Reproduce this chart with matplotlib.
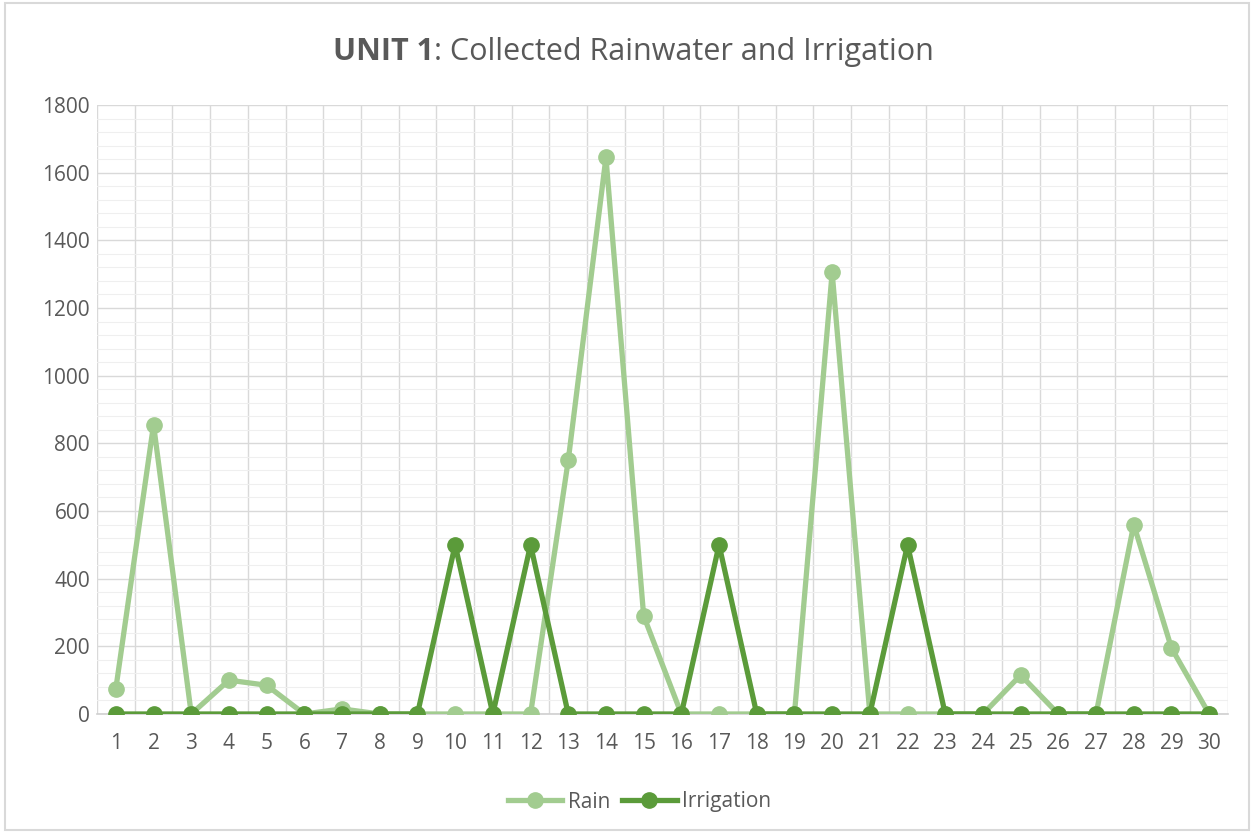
import numpy as np
import matplotlib.pyplot as plt
from matplotlib.ticker import MultipleLocator

# Days 1..30
days = list(range(1, 31))

# Collected rainwater per day
rain = [75, 855, 0, 100, 85, 0, 15, 0, 0, 0,
        0, 0, 750, 1645, 290, 0, 0, 0, 0, 1305,
        0, 0, 0, 0, 115, 0, 0, 560, 195, 0]

# Irrigation per day
irrigation = [0, 0, 0, 0, 0, 0, 0, 0, 0, 500,
              0, 500, 0, 0, 0, 0, 500, 0, 0, 0,
              0, 500, 0, 0, 0, 0, 0, 0, 0, 0]

rain_color = '#a2cc90'
irr_color = '#5b9b3a'
text_color = '#595959'

plt.rcParams['font.family'] = ['Open Sans', 'DejaVu Sans']

fig = plt.figure(figsize=(12.54, 8.33), dpi=100)
ax = fig.add_axes([97 / 1254, 1 - 714 / 833, (1228 - 97) / 1254, (714 - 105) / 833])

x = np.arange(len(days))
ax.plot(x, rain, color=rain_color, lw=3.8, marker='o', ms=11, label='Rain', zorder=3)
ax.plot(x, irrigation, color=irr_color, lw=3.8, marker='o', ms=11, label='Irrigation', zorder=4)

ax.set_xlim(-0.5, len(days) - 0.5)
ax.set_ylim(0, 1800)
ax.yaxis.set_major_locator(MultipleLocator(200))
ax.yaxis.set_minor_locator(MultipleLocator(40))
ax.set_xticks(x)
ax.set_xticklabels([str(d) for d in days])
ax.set_xticks(np.arange(-0.5, len(days), 1), minor=True)

ax.grid(which='major', axis='y', color='#d9d9d9', lw=1)
ax.grid(which='minor', axis='y', color='#efefef', lw=0.8)
ax.grid(which='minor', axis='x', color='#d9d9d9', lw=1)
ax.set_axisbelow(True)

for s in ['top', 'right', 'left']:
    ax.spines[s].set_visible(False)
ax.spines['bottom'].set_color('#d0d0d0')
ax.spines['bottom'].set_linewidth(1.2)

ax.tick_params(which='both', length=0)
ax.tick_params(axis='both', labelsize=15, labelcolor=text_color)
ax.tick_params(axis='x', pad=14)
ax.tick_params(axis='y', pad=5)

# title: bold "UNIT 1" followed by regular text, centred as a whole
t1 = fig.text(0, 1 - 52 / 833, 'UNIT 1', fontsize=22, fontweight='bold',
              color=text_color, ha='left', va='center')
t2 = fig.text(0, 1 - 52 / 833, ': Collected Rainwater and Irrigation', fontsize=22,
              color=text_color, ha='left', va='center')
fig.canvas.draw()
w1 = t1.get_window_extent().width
w2 = t2.get_window_extent().width
x0 = 633 - (w1 + w2) / 2
t1.set_x(x0 / 1254)
t2.set_x((x0 + w1) / 1254)

fig.legend(loc='center', bbox_to_anchor=(0.51, 1 - 802 / 833), ncol=2, frameon=False,
           fontsize=15, labelcolor=text_color, handlelength=2.6, columnspacing=0.6,
           handletextpad=0.25)

# light border around the chart area
fig.patches.append(plt.Rectangle((0.004, 0.004), 0.992, 0.992, transform=fig.transFigure,
                                 fill=False, edgecolor='#d9d9d9', lw=1.5))

fig.savefig('out.png', dpi=100)
